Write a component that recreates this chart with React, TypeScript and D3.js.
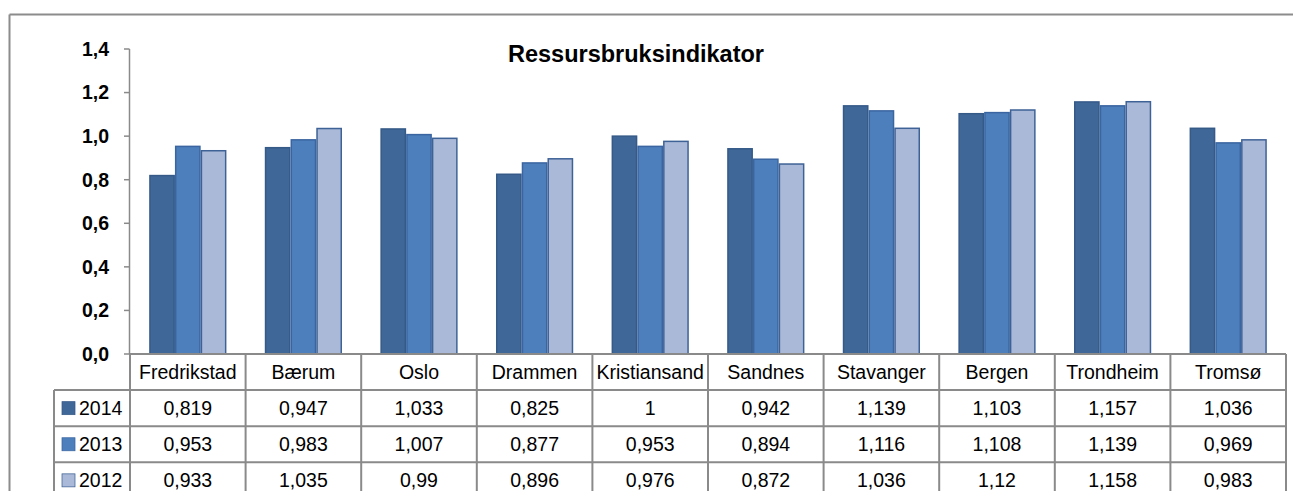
import React from "react";
import * as d3 from "d3";

const categories = ["Fredrikstad", "Bærum", "Oslo", "Drammen", "Kristiansand", "Sandnes", "Stavanger", "Bergen", "Trondheim", "Tromsø"];
const seriesNames = ["2014", "2013", "2012"];
const values2014 = [0.819, 0.947, 1.033, 0.825, 1, 0.942, 1.139, 1.103, 1.157, 1.036];
const values2013 = [0.953, 0.983, 1.007, 0.877, 0.953, 0.894, 1.116, 1.108, 1.139, 0.969];
const values2012 = [0.933, 1.035, 0.99, 0.896, 0.976, 0.872, 1.036, 1.12, 1.158, 0.983];
const yTicks = [0, 0.2, 0.4, 0.6, 0.8, 1.0, 1.2, 1.4];
const title = "Ressursbruksindikator";

const seriesValues = [values2014, values2013, values2012];
const fills = ["#3F6797", "#4D7FBC", "#AAB9D8"];
const strokes = ["#355A88", "#3A65A0", "#3E6296"];

const W = 1293;
const H = 491;
const plotLeft = 130;
const plotRight = 1286;
const plotTop = 49;
const plotBottom = 354;
const rowH = 36.1;
const legendLeft = 54;
const gridColor = "#8a8a8a";
const font = "'Liberation Sans', Arial, sans-serif";

const fmt = (v: number) => String(v).replace(".", ",");

export default function App() {
  const x0 = d3.scaleBand<string>().domain(categories).range([plotLeft, plotRight]).padding(0);
  const bw = x0.bandwidth();
  const pad = bw * 0.166;
  const x1 = d3.scaleBand<string>().domain(seriesNames).range([pad, bw - pad]).padding(0);
  const y = d3.scaleLinear().domain([0, 1.4]).range([plotBottom, plotTop]);

  const rowTops = [0, 1, 2, 3].map((i) => plotBottom + i * rowH);

  return (
    <div style={{ position: "absolute", left: 0, top: 0 }}>
      <svg width={W} height={H} style={{ display: "block", background: "#fff" }}>
        <line x1={9.5} y1={14.5} x2={W} y2={14.5} stroke="#8c8c8c" strokeWidth={2} />
        <line x1={9.5} y1={14.5} x2={9.5} y2={H} stroke="#8c8c8c" strokeWidth={2} />

        <text x={636} y={62} textAnchor="middle" fontFamily={font} fontWeight="bold" fontSize={23.5} fill="#000">
          {title}
        </text>

        <line x1={plotLeft - 0.5} y1={plotTop} x2={plotLeft - 0.5} y2={plotBottom} stroke={gridColor} strokeWidth={1.5} />
        {yTicks.map((t) => (
          <g key={t}>
            <line x1={plotLeft - 6} x2={plotLeft - 0.5} y1={y(t)} y2={y(t)} stroke={gridColor} strokeWidth={1.5} />
            <text x={109} y={y(t)} dy="0.35em" textAnchor="end" fontFamily={font} fontWeight="bold" fontSize={19.5} fill="#000">
              {t.toFixed(1).replace(".", ",")}
            </text>
          </g>
        ))}

        {categories.map((c, ci) => (
          <g key={c} transform={`translate(${x0(c)},0)`}>
            {seriesNames.map((s, si) => {
              const v = seriesValues[si][ci];
              return (
                <rect
                  key={s}
                  x={x1(s)! + 0.75}
                  y={y(v)}
                  width={x1.bandwidth() - 1.5}
                  height={plotBottom - y(v)}
                  fill={fills[si]}
                  stroke={strokes[si]}
                  strokeWidth={1.5}
                />
              );
            })}
          </g>
        ))}

        <g fontFamily={font} fontSize={19.5} fill="#000">
          <line x1={plotLeft} x2={plotRight} y1={plotBottom} y2={plotBottom} stroke={gridColor} strokeWidth={2} />
          {rowTops.slice(1).map((ry, i) => (
            <line key={i} x1={legendLeft} x2={plotRight} y1={ry} y2={ry} stroke={gridColor} strokeWidth={2} />
          ))}
          <line x1={legendLeft} x2={legendLeft} y1={rowTops[1]} y2={H} stroke={gridColor} strokeWidth={2} />
          {categories.map((c) => (
            <line key={c} x1={x0(c)!} x2={x0(c)!} y1={plotBottom} y2={H} stroke={gridColor} strokeWidth={2} />
          ))}
          <line x1={plotRight} x2={plotRight} y1={plotBottom} y2={H} stroke={gridColor} strokeWidth={2} />

          {categories.map((c) => (
            <text key={c} x={x0(c)! + bw / 2} y={rowTops[0] + rowH / 2} dy="0.35em" textAnchor="middle">
              {c}
            </text>
          ))}

          {seriesNames.map((s, si) => {
            const cy = rowTops[si + 1] + rowH / 2;
            return (
              <g key={s}>
                <rect x={62} y={cy - 6.5} width={13} height={13} fill={fills[si]} stroke={strokes[si]} strokeWidth={0.75} />
                <text x={79} y={cy} dy="0.35em" textAnchor="start">
                  {s}
                </text>
                {categories.map((c, ci) => (
                  <text key={c} x={x0(c)! + bw / 2} y={cy} dy="0.35em" textAnchor="middle">
                    {fmt(seriesValues[si][ci])}
                  </text>
                ))}
              </g>
            );
          })}
        </g>
      </svg>
    </div>
  );
}
